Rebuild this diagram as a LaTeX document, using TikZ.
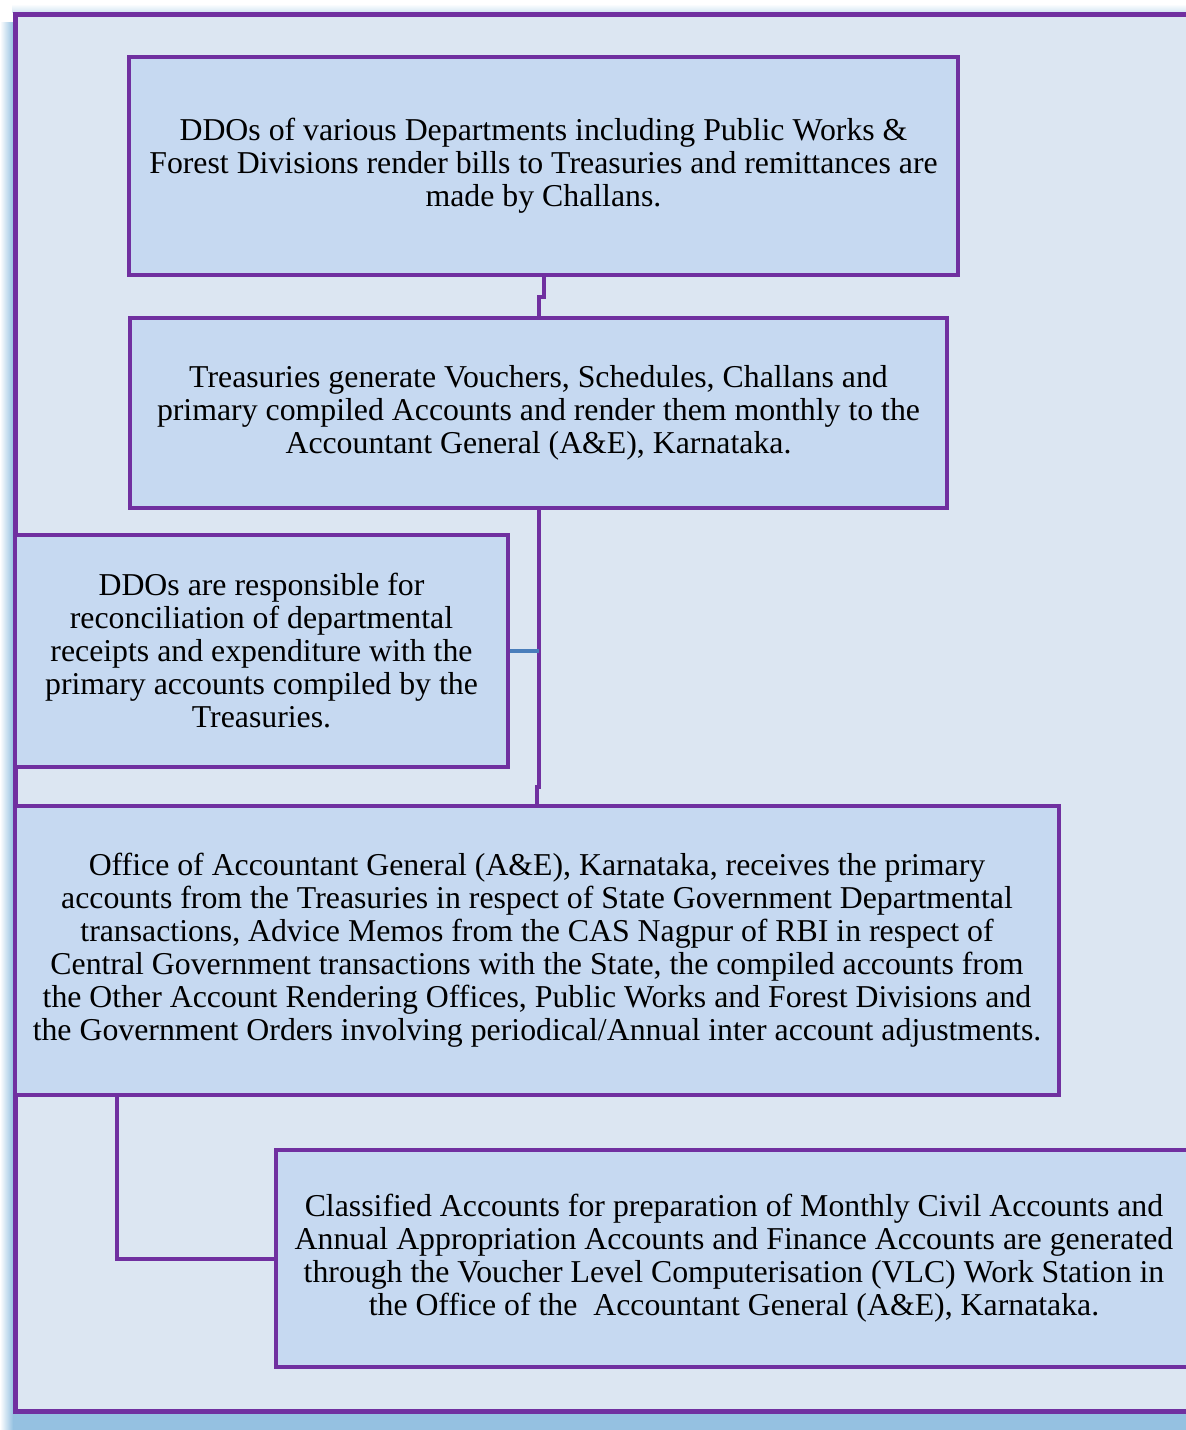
\documentclass[tikz,border=0pt]{standalone}
\usepackage{fontspec}
\setmainfont{Liberation Serif}
\usepackage{tikz}
\usetikzlibrary{calc}
\definecolor{panelbg}{HTML}{DCE6F2}
\definecolor{boxfill}{HTML}{C6D9F1}
\definecolor{frameviolet}{HTML}{7030A0}
\definecolor{linkblue}{HTML}{4A7EBB}
\definecolor{shadowblue}{HTML}{95C1E1}

\begin{document}
\begin{tikzpicture}[x=1pt, y=-1pt,
  flowbox/.style={draw=frameviolet, line width=4pt, fill=boxfill, inner sep=0pt,
    align=center, font=\fontsize{31.8}{33}\selectfont},
  link/.style={draw=frameviolet, line width=4pt}]
  \clip (0,0) rectangle (1186,1430);
  \fill[white] (0,0) rectangle (1186,1430);
  % soft shadow of the panel
  \shade[left color=white, right color=shadowblue] (0,22) rectangle (13,1430);
  \fill[shadowblue] (13,1413) rectangle (1190,1430);
  \shade[top color=white, bottom color=shadowblue!40] (12,4) rectangle (1190,12);
  \draw[fill=panelbg, draw=frameviolet, line width=5pt] (15,14) rectangle (1200,1411);

  \node[flowbox, minimum width=829pt, minimum height=218pt] (bills) at (543.5,166)
    {DDOs of various Departments including Public Works \&\\
     Forest Divisions render bills to Treasuries and remittances are\\
     made by Challans.};
  \node[flowbox, minimum width=817pt, minimum height=190pt] (treasury) at (538.5,413)
    {Treasuries generate Vouchers, Schedules, Challans and\\
     primary compiled Accounts and render them monthly to the\\
     Accountant General (A\&E), Karnataka.};
  \node[flowbox, minimum width=493pt, minimum height=232pt] (recon) at (261.5,651)
    {DDOs are responsible for\\
     reconciliation of departmental\\
     receipts and expenditure with the\\
     primary accounts compiled by the\\
     Treasuries.};
  \node[flowbox, minimum width=1044pt, minimum height=289pt] (agoffice) at (537,950.5)
    {Office of Accountant General (A\&E), Karnataka, receives the primary\\
     accounts from the Treasuries in respect of State Government Departmental\\
     transactions, Advice Memos from the CAS Nagpur of RBI in respect of\\
     Central Government transactions with the State, the compiled accounts from\\
     the Other Account Rendering Offices, Public Works and Forest Divisions and\\
     the Government Orders involving periodical/Annual inter account adjustments.};
  \node[flowbox, minimum width=916pt, minimum height=217pt] (vlc) at (734,1258.5)
    {Classified Accounts for preparation of Monthly Civil Accounts and\\
     Annual Appropriation Accounts and Finance Accounts are generated\\
     through the Voucher Level Computerisation (VLC) Work Station in\\
     the Office of the\ \ Accountant General (A\&E), Karnataka.};

  \draw[link] (bills.south) -- ++(0,20) -| (treasury.north);
  \draw[link] (treasury.south) -- ++(0,277) -| (agoffice.north);
  \draw[linkblue, line width=4pt] (recon.east) -- (recon.east -| treasury.south);
  \draw[link] (agoffice.south west) ++(104,0) |- (vlc.west);
\end{tikzpicture}
\end{document}
